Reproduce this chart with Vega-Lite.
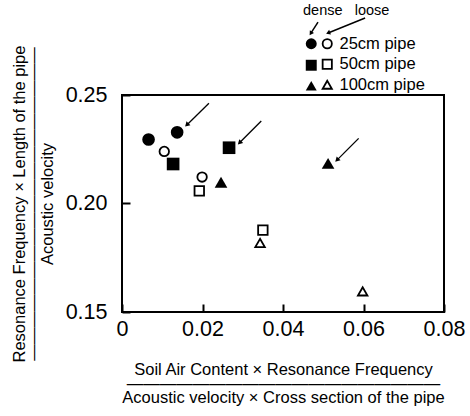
{
  "$schema": "https://vega.github.io/schema/vega-lite/v6.json",
  "width": 322,
  "height": 217,
  "autosize": {"type": "none"},
  "padding": {"left": 122, "top": 95, "right": 26, "bottom": 104},
  "background": "white",
  "config": {
    "font": "Liberation Sans",
    "view": {"stroke": "black", "strokeWidth": 2},
    "axis": {
      "domain": false, "grid": false, "ticks": true, "tickColor": "black", "tickWidth": 2, "tickSize": -8,
      "labelFlush": false, "labelColor": "black", "labelFont": "Liberation Sans", "labelFontSize": 21.5,
      "titleFont": "Liberation Sans", "titleFontSize": 16.5, "titleFontWeight": "normal", "titleColor": "black", "titleLineHeight": 14
    },
    "legend": {
      "titleFont": "Liberation Sans", "titleFontWeight": "normal", "titleFontSize": 14.5, "titleColor": "black",
      "labelFont": "Liberation Sans", "labelFontSize": 16.5, "labelColor": "black",
      "padding": 0, "rowPadding": 3.5, "titlePadding": 17, "labelOffset": 4
    }
  },
  "datasets": {
    "pts": [
      {"x": 0.0066, "y": 0.2295, "pipe": "25cm pipe", "state": "dense"},
      {"x": 0.0137, "y": 0.2328, "pipe": "25cm pipe", "state": "dense"},
      {"x": 0.0105, "y": 0.2240, "pipe": "25cm pipe", "state": "loose"},
      {"x": 0.0199, "y": 0.2122, "pipe": "25cm pipe", "state": "loose"},
      {"x": 0.0127, "y": 0.2182, "pipe": "50cm pipe", "state": "dense"},
      {"x": 0.0266, "y": 0.2257, "pipe": "50cm pipe", "state": "dense"},
      {"x": 0.0192, "y": 0.2058, "pipe": "50cm pipe", "state": "loose"},
      {"x": 0.0350, "y": 0.1877, "pipe": "50cm pipe", "state": "loose"},
      {"x": 0.0246, "y": 0.2098, "pipe": "100cm pipe", "state": "dense"},
      {"x": 0.0512, "y": 0.2185, "pipe": "100cm pipe", "state": "dense"},
      {"x": 0.0343, "y": 0.1818, "pipe": "100cm pipe", "state": "loose"},
      {"x": 0.0598, "y": 0.1595, "pipe": "100cm pipe", "state": "loose"}
    ],
    "arrows": [
      {"id": "p1", "x": 0.0216, "y": 0.2462, "x2": 0.0161, "y2": 0.2362},
      {"id": "p2", "x": 0.0346, "y": 0.2380, "x2": 0.0292, "y2": 0.2280},
      {"id": "p3", "x": 0.0588, "y": 0.2300, "x2": 0.0534, "y2": 0.2200}
    ],
    "keyarrows": [
      {"id": "dense", "x": 0.0487, "y": 0.2836, "x2": 0.0469, "y2": 0.2784},
      {"id": "loose", "x": 0.0604, "y": 0.2855, "x2": 0.0512, "y2": 0.2786}
    ]
  },
  "resolve": {"scale": {"shape": "independent"}, "legend": {"shape": "independent"}},
  "layer": [
    {
      "data": {"name": "keyarrows"},
      "mark": {"type": "rule", "color": "black", "strokeWidth": 1.5, "clip": false},
      "encoding": {
        "x": {"field": "x", "type": "quantitative"},
        "y": {"field": "y", "type": "quantitative"},
        "x2": {"field": "x2"},
        "y2": {"field": "y2"}
      }
    },
    {
      "data": {"name": "keyarrows"},
      "transform": [{"filter": "datum.id == 'dense'"}],
      "mark": {"type": "point", "shape": "triangle-up", "angle": 213, "size": 24, "filled": true, "color": "black", "opacity": 1, "clip": false},
      "encoding": {
        "x": {"field": "x2", "type": "quantitative"},
        "y": {"field": "y2", "type": "quantitative"}
      }
    },
    {
      "data": {"name": "keyarrows"},
      "transform": [{"filter": "datum.id == 'loose'"}],
      "mark": {"type": "point", "shape": "triangle-up", "angle": 248, "size": 24, "filled": true, "color": "black", "opacity": 1, "clip": false},
      "encoding": {
        "x": {"field": "x2", "type": "quantitative"},
        "y": {"field": "y2", "type": "quantitative"}
      }
    },
    {
      "data": {"name": "pts"},
      "transform": [{"filter": "datum.state == 'dense'"}],
      "mark": {"type": "point", "color": "black", "strokeWidth": 1, "opacity": 1, "filled": true, "size": 160},
      "encoding": {
        "x": {
          "field": "x", "type": "quantitative",
          "scale": {"domain": [0, 0.08], "nice": false, "zero": false},
          "axis": {
            "values": [0, 0.02, 0.04, 0.06, 0.08],
            "labelExpr": "datum.value == 0 ? '0' : format(datum.value, '.2f')",
            "labelPadding": 14, "titlePadding": 22,
            "title": ["Soil Air Content × Resonance Frequency", "———————————————————", "Acoustic velocity × Cross section of the pipe"]
          }
        },
        "y": {
          "field": "y", "type": "quantitative",
          "scale": {"domain": [0.15, 0.25], "nice": false, "zero": false},
          "axis": {
            "values": [0.15, 0.2, 0.25], "format": ".2f", "labelPadding": 23, "titlePadding": 10,
            "title": ["Resonance Frequency × Length of the pipe", "———————————————————", "Acoustic velocity"]
          }
        },
        "shape": {
          "field": "pipe", "type": "nominal",
          "scale": {"domain": ["25cm pipe", "50cm pipe", "100cm pipe"], "range": ["circle", "square", "triangle-up"]},
          "legend": {"title": "dense", "orient": "none", "legendX": 181, "legendY": -91, "titleAnchor": "start", "labelOpacity": 0, "symbolSize": 120}
        }
      }
    },
    {
      "data": {"name": "pts"},
      "transform": [{"filter": "datum.state == 'loose'"}],
      "mark": {"type": "point", "color": "black", "fill": "white", "strokeWidth": 1.8, "opacity": 1, "filled": false, "size": 90},
      "encoding": {
        "x": {"field": "x", "type": "quantitative"},
        "y": {"field": "y", "type": "quantitative"},
        "shape": {
          "field": "pipe", "type": "nominal",
          "scale": {"domain": ["25cm pipe", "50cm pipe", "100cm pipe"], "range": ["circle", "square", "triangle-up"]},
          "legend": {"title": "loose", "orient": "none", "legendX": 197, "legendY": -91, "titleAnchor": "middle", "symbolSize": 85, "symbolStrokeWidth": 1.8}
        }
      }
    },
    {
      "data": {"name": "arrows"},
      "mark": {"type": "rule", "color": "black", "strokeWidth": 1.3},
      "encoding": {
        "x": {"field": "x", "type": "quantitative"},
        "y": {"field": "y", "type": "quantitative"},
        "x2": {"field": "x2"},
        "y2": {"field": "y2"}
      }
    },
    {
      "data": {"name": "arrows"},
      "mark": {"type": "point", "shape": "triangle-up", "angle": 225, "size": 30, "filled": true, "color": "black", "opacity": 1},
      "encoding": {
        "x": {"field": "x2", "type": "quantitative"},
        "y": {"field": "y2", "type": "quantitative"}
      }
    }
  ]
}
